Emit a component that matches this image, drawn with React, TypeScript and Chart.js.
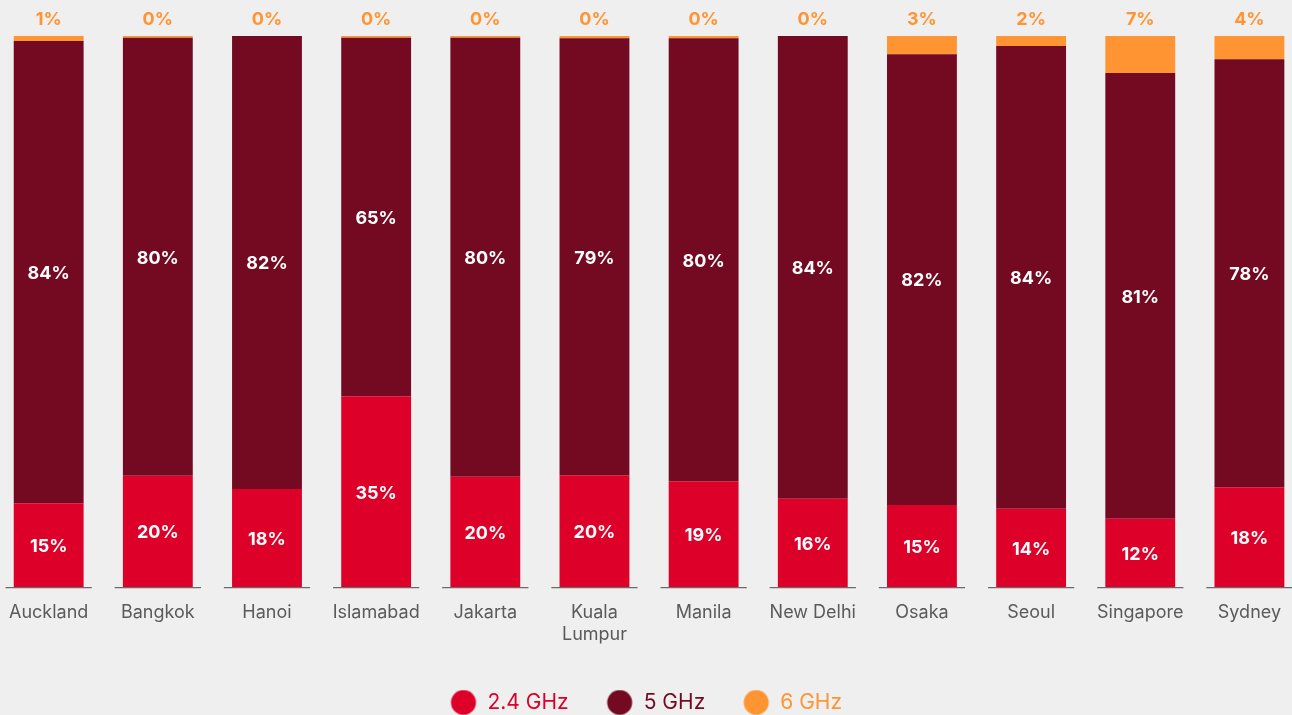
import React, { useEffect, useRef } from "react";
import { Chart, registerables } from "chart.js";

Chart.register(...registerables);

const cities: (string | string[])[] = [
  "Auckland",
  "Bangkok",
  "Hanoi",
  "Islamabad",
  "Jakarta",
  ["Kuala", "Lumpur"],
  "Manila",
  "New Delhi",
  "Osaka",
  "Seoul",
  "Singapore",
  "Sydney",
];
const ghz24 = [15.2, 20.2, 17.8, 34.6, 20.0, 20.3, 19.2, 16.0, 14.9, 14.2, 12.4, 18.1];
const ghz5 = [83.9, 79.5, 82.2, 65.1, 79.7, 79.3, 80.4, 84.0, 81.8, 84.0, 80.9, 77.7];
const ghz6 = [0.9, 0.3, 0, 0.3, 0.3, 0.4, 0.4, 0, 3.3, 1.8, 6.7, 4.2];
const seriesNames = ["2.4 GHz", "5 GHz", "6 GHz"];
const seriesColors = ["#dd0029", "#730a22", "#ff9433"];

const BG = "#efefef";
const FONT = "Inter";
const LEGEND_SIZE = 21;

function dot(color: string) {
  const c = document.createElement("canvas");
  c.width = 40;
  c.height = 26;
  const g = c.getContext("2d")!;
  g.fillStyle = color;
  g.beginPath();
  g.arc(17, 13, 12.5, 0, Math.PI * 2);
  g.fill();
  return c;
}

const labelPlugin = {
  id: "segLabels",
  afterDatasetsDraw(chart: any) {
    const { ctx, chartArea } = chart;
    ctx.save();
    ctx.textAlign = "center";
    ctx.textBaseline = "middle";
    ctx.font = `700 18px ${FONT}`;
    chart.data.datasets.forEach((ds: any, di: number) => {
      const meta = chart.getDatasetMeta(di);
      meta.data.forEach((el: any, i: number) => {
        const p = el.getProps(["x", "y", "base"], true);
        const txt = Math.round(ds.data[i]) + "%";
        if (di === 2) {
          ctx.fillStyle = seriesColors[2];
          ctx.fillText(txt, p.x, chartArea.top - 16);
        } else {
          ctx.fillStyle = "#ffffff";
          ctx.fillText(txt, p.x, (p.y + p.base) / 2 + 1.5);
        }
      });
    });
    const xs = chart.scales.x;
    const w = (xs.width / cities.length) * 0.79;
    ctx.strokeStyle = "#6a6a6a";
    ctx.lineWidth = 1.2;
    for (let i = 0; i < cities.length; i++) {
      const x = xs.getPixelForValue(i);
      ctx.beginPath();
      ctx.moveTo(x - w / 2, chartArea.bottom + 0.6);
      ctx.lineTo(x + w / 2, chartArea.bottom + 0.6);
      ctx.stroke();
    }
    ctx.restore();
  },
};

export default function App() {
  const ref = useRef<HTMLCanvasElement>(null);

  useEffect(() => {
    document.body.style.margin = "0";
    document.body.style.overflow = "hidden";
    document.body.style.background = BG;
    const dots = seriesColors.map(dot);
    const chart = new Chart(ref.current!, {
      type: "bar",
      data: {
        labels: cities as any,
        datasets: seriesNames.map((name, i) => ({
          label: name,
          data: [ghz24, ghz5, ghz6][i],
          backgroundColor: seriesColors[i],
          borderWidth: 0,
          categoryPercentage: 0.8,
          barPercentage: 0.8,
        })),
      },
      options: {
        animation: false,
        responsive: true,
        maintainAspectRatio: false,
        devicePixelRatio: 1,
        layout: { padding: { top: 36, left: 0, right: 0, bottom: 0 } },
        scales: {
          x: {
            stacked: true,
            grid: { display: false, drawTicks: false },
            border: { display: false },
            ticks: {
              padding: 15,
              color: "#5a5a5a",
              font: { family: FONT, size: 18, lineHeight: 1.22 },
              maxRotation: 0,
              autoSkip: false,
            },
            afterFit: (scale: any) => {
              scale.height = 61.5;
            },
          },
          y: {
            stacked: true,
            display: false,
            min: 0,
            max: 100,
          },
        },
        plugins: {
          tooltip: { enabled: false },
          legend: {
            position: "bottom",
            labels: {
              usePointStyle: true,
              padding: 43.5,
              font: { family: FONT, size: LEGEND_SIZE },
              generateLabels: (chart: any) => {
                const items = Chart.defaults.plugins.legend.labels.generateLabels(chart);
                return items.map((it: any, i: number) => ({
                  ...it,
                  fontColor: seriesColors[i],
                  pointStyle: dots[i],
                }));
              },
            },
          },
        },
      },
      plugins: [labelPlugin],
    });
    return () => chart.destroy();
  }, []);

  return (
    <div style={{ position: "absolute", left: -6, top: 0, width: 1310, height: 723 }}>
      <canvas ref={ref} />
    </div>
  );
}
